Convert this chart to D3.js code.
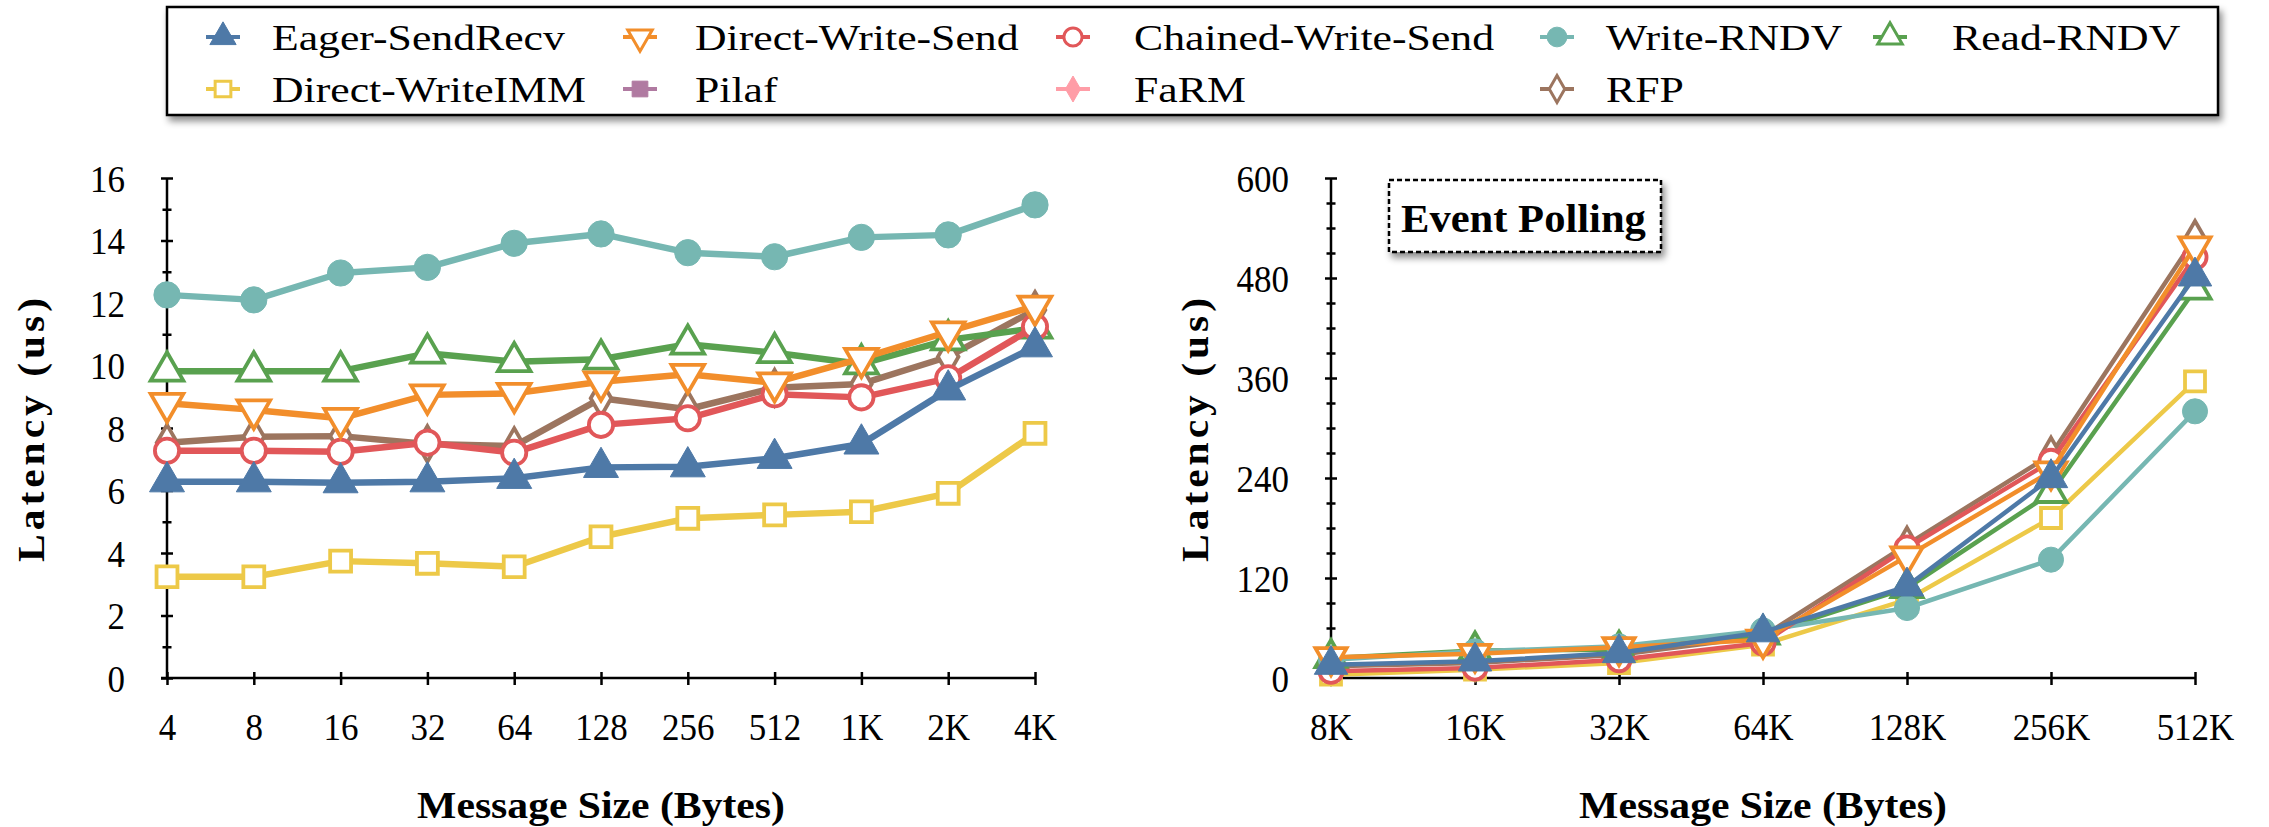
<!DOCTYPE html>
<html>
<head>
<meta charset="utf-8">
<script src="https://cdn.jsdelivr.net/npm/d3@7"></script>
<style>
  body { margin: 0; background: #fff; }
  svg { display: block; }
  svg text { font-family: "Liberation Serif", Tinos, "Times New Roman", Times, "DejaVu Serif", serif; }
</style>
</head>
<body>
<svg id="chart" width="2269" height="827"></svg>
<script>
// ---- data ----
const seriesNames = ["Eager-SendRecv", "Direct-Write-Send", "Chained-Write-Send", "Write-RNDV", "Read-RNDV",
                     "Direct-WriteIMM", "Pilaf", "FaRM", "RFP"];

const smallSizes = ["4", "8", "16", "32", "64", "128", "256", "512", "1K", "2K", "4K"];
const largeSizes = ["8K", "16K", "32K", "64K", "128K", "256K", "512K"];
const smallTicks = [0, 2, 4, 6, 8, 10, 12, 14, 16];
const largeTicks = [0, 120, 240, 360, 480, 600];

// latency (us), small messages
const smallEager        = [6.28, 6.28, 6.25, 6.28, 6.39, 6.74, 6.76, 7.03, 7.49, 9.22, 10.6];
const smallDirectWSend  = [8.79, 8.58, 8.31, 9.06, 9.11, 9.48, 9.72, 9.45, 10.23, 11.08, 11.9];
const smallChainedWSend = [7.27, 7.27, 7.24, 7.53, 7.21, 8.10, 8.31, 9.08, 8.98, 9.59, 11.24];
const smallWriteRNDV    = [12.26, 12.10, 12.96, 13.14, 13.91, 14.21, 13.61, 13.48, 14.10, 14.18, 15.14];
const smallReadRNDV     = [9.82, 9.82, 9.82, 10.39, 10.12, 10.20, 10.68, 10.41, 10.05, 10.82, 11.19];
const smallWriteIMM     = [3.24, 3.24, 3.74, 3.67, 3.56, 4.52, 5.11, 5.22, 5.32, 5.91, 7.83];
const smallPilaf        = [];
const smallFaRM         = [];
const smallRFP          = [7.53, 7.72, 7.74, 7.49, 7.42, 8.95, 8.60, 9.29, 9.41, 10.28, 11.78];

// latency (us), large messages, event polling
const largeEager        = [16, 20, 30, 55, 110, 240, 482];
const largeDirectWSend  = [25, 29, 37, 46, 146, 248, 518];
const largeChainedWSend = [8, 12, 22, 42, 156, 260, 505];
const largeWriteRNDV    = [22, 32, 38, 57, 84, 142, 320];
const largeReadRNDV     = [24, 33, 34, 52, 108, 222, 466];
const largeWriteIMM     = [4, 10, 18, 40, 94, 192, 356];
const largePilaf        = [];
const largeFaRM         = [];
const largeRFP          = [14, 18, 28, 50, 160, 268, 528];

const smallSeries = [smallEager, smallDirectWSend, smallChainedWSend, smallWriteRNDV, smallReadRNDV,
                     smallWriteIMM, smallPilaf, smallFaRM, smallRFP];
const largeSeries = [largeEager, largeDirectWSend, largeChainedWSend, largeWriteRNDV, largeReadRNDV,
                     largeWriteIMM, largePilaf, largeFaRM, largeRFP];

// ---- styling ----
const colors = ["#4e79a7", "#f28e2b", "#e15759", "#76b7b2", "#59a14f", "#edc948", "#b07aa1", "#ff9da7", "#9c755f"];
const shapes = [
  { type: d3.symbolTriangle, open: false, rot: 0,   size: 460 },
  { type: d3.symbolTriangle, open: true,  rot: 180, size: 400 },
  { type: d3.symbolCircle,   open: true,  rot: 0,   size: 400 },
  { type: d3.symbolCircle,   open: false, rot: 0,   size: 470 },
  { type: d3.symbolTriangle, open: true,  rot: 0,   size: 400 },
  { type: d3.symbolSquare,   open: true,  rot: 0,   size: 380 },
  { type: d3.symbolSquare,   open: false, rot: 0,   size: 380 },
  { type: d3.symbolDiamond,  open: false, rot: 0,   size: 300 },
  { type: d3.symbolDiamond,  open: true,  rot: 0,   size: 320 }
];

const svg = d3.select("#chart");

// soft drop shadow used by the framed boxes
const defs = svg.append("defs");
const shadow = defs.append("filter").attr("id", "shadow")
  .attr("x", "-5%").attr("y", "-20%").attr("width", "115%").attr("height", "160%");
shadow.append("feDropShadow")
  .attr("dx", 3).attr("dy", 5).attr("stdDeviation", 3.5)
  .attr("flood-color", "#000").attr("flood-opacity", 0.45);

function markerPath(s, scale) {
  return d3.symbol().type(s.type).size(s.size * (scale || 1))();
}

// horizontal scale that brings a string to a given width at a given size
function widthScale(str, size, weight, targetWidth) {
  const t = svg.append("text").style("font-size", size + "px").style("font-weight", weight).text(str);
  const w = t.node().getComputedTextLength();
  t.remove();
  return w > 0 ? targetWidth / w : 1;
}

const TICK_SIZE = 37;
const tickScale = widthScale("16", TICK_SIZE, "normal", 35);

function drawPanel(opt) {
  const x = d3.scalePoint().domain(opt.categories).range([opt.x0, opt.x1]);
  const y = d3.scaleLinear().domain([0, opt.yMax]).range([opt.yBottom, opt.yTop]);
  const g = svg.append("g");

  // y axis: major + minor ticks crossing the spine
  const yAxis = g.append("g").attr("transform", `translate(${opt.x0},0)`)
    .call(d3.axisLeft(y).tickValues(opt.yTicks).tickSizeOuter(0).tickFormat(d3.format("d")));
  yAxis.attr("font-family", null);
  yAxis.select(".domain").remove();
  yAxis.selectAll(".tick line").attr("x1", -6).attr("x2", 6).attr("stroke", "#000").attr("stroke-width", 2.5);
  yAxis.selectAll(".tick text")
    .attr("dy", "0.36em")
    .attr("x", -42 / tickScale)
    .attr("transform", `scale(${tickScale},1)`)
    .style("font-size", TICK_SIZE + "px").attr("fill", "#000");

  const minor = g.append("g").attr("transform", `translate(${opt.x0},0)`)
    .call(d3.axisLeft(y).tickValues(d3.range(0, opt.yMax + 1e-9, opt.yMinor)
      .filter(v => !opt.yTicks.includes(v))).tickFormat(""));
  minor.select(".domain").remove();
  minor.selectAll(".tick line").attr("x1", -4.5).attr("x2", 4.5).attr("stroke", "#000").attr("stroke-width", 2.5);

  g.append("line")
    .attr("x1", opt.x0).attr("x2", opt.x0)
    .attr("y1", y(opt.yMax)).attr("y2", y(0))
    .attr("stroke", "#000").attr("stroke-width", 2.5);

  // x axis
  const xAxis = g.append("g").attr("transform", `translate(0,${y(0)})`)
    .call(d3.axisBottom(x).tickSizeOuter(0));
  xAxis.attr("font-family", null);
  xAxis.select(".domain").remove();
  xAxis.selectAll(".tick line").attr("y1", -6).attr("y2", 7).attr("stroke", "#000").attr("stroke-width", 2.5);
  xAxis.selectAll(".tick text")
    .attr("y", 62).attr("dy", null)
    .attr("transform", `scale(${tickScale},1)`)
    .style("font-size", TICK_SIZE + "px").attr("fill", "#000");
  g.append("line")
    .attr("x1", opt.x0 - 6).attr("x2", opt.x1)
    .attr("y1", y(0)).attr("y2", y(0))
    .attr("stroke", "#000").attr("stroke-width", 2.5);

  // axis titles
  const ys = widthScale("Latency (us)", 38, "bold", 220);
  g.append("text")
    .attr("text-anchor", "middle")
    .attr("transform",
      `translate(${opt.x0 - 123},${(opt.yTop + opt.yBottom) / 2}) rotate(-90) scale(${ys},1)`)
    .style("font-size", "38px").style("font-weight", "bold")
    .style("letter-spacing", (4 / ys) + "px")
    .text("Latency (us)");

  const xs = widthScale("Message Size (Bytes)", 38, "bold", 368);
  g.append("text")
    .attr("text-anchor", "middle")
    .attr("transform", `translate(${(opt.x0 + opt.x1) / 2},818) scale(${xs},1)`)
    .style("font-size", "38px").style("font-weight", "bold")
    .text("Message Size (Bytes)");

  // series, last legend entry at the bottom
  const order = d3.range(seriesNames.length).reverse();
  const line = d3.line().x((d, i) => x(opt.categories[i])).y(d => y(d));
  order.forEach(k => {
    const vals = opt.series[k];
    if (!vals.length) return;
    const sg = g.append("g");
    sg.append("path").datum(vals)
      .attr("d", line)
      .attr("fill", "none").attr("stroke", colors[k])
      .attr("stroke-width", opt.lineWidth).attr("stroke-linejoin", "round");
    const s = shapes[k];
    sg.selectAll("path.mk").data(vals).join("path").attr("class", "mk")
      .attr("d", markerPath(s, opt.markerScale))
      .attr("transform", (d, i) => `translate(${x(opt.categories[i])},${y(d)}) rotate(${s.rot})`)
      .attr("fill", s.open ? "#fff" : colors[k])
      .attr("stroke", colors[k])
      .attr("stroke-width", s.open ? 3.8 : 1);
  });
  return { x, y, g };
}

drawPanel({
  categories: smallSizes, series: smallSeries, yMax: 16, yTicks: smallTicks, yMinor: 1,
  x0: 167, x1: 1035, yTop: 178, yBottom: 678, lineWidth: 6.5, markerScale: 1.15
});

drawPanel({
  categories: largeSizes, series: largeSeries, yMax: 600, yTicks: largeTicks, yMinor: 30,
  x0: 1331, x1: 2195, yTop: 178, yBottom: 678, lineWidth: 4.5, markerScale: 1.05
});

// annotation box on the event polling panel
const note = svg.append("g");
note.append("rect")
  .attr("x", 1389).attr("y", 180).attr("width", 272).attr("height", 72)
  .attr("fill", "#fff").attr("stroke", "#000").attr("stroke-width", 2.5)
  .attr("stroke-dasharray", "5,3").attr("filter", "url(#shadow)");
const ns = widthScale("Event Polling", 39, "bold", 245);
note.append("text")
  .attr("transform", `translate(1401,232) scale(${ns},1)`)
  .style("font-size", "39px").style("font-weight", "bold")
  .text("Event Polling");

// legend
const legend = svg.append("g");
legend.append("rect")
  .attr("x", 167).attr("y", 7).attr("width", 2051).attr("height", 108)
  .attr("fill", "#fff").attr("stroke", "#000").attr("stroke-width", 2.5)
  .attr("filter", "url(#shadow)");
const legendMarkX = [223, 640, 1073, 1557, 1890];
const legendTextX = [272, 695, 1134, 1606, 1952];
const legendRowY = [37, 89];
// "Eager-SendRecv" spans about 293px; the other labels follow the same scale
const legendScale = widthScale("Eager-SendRecv", 35, "normal", 293);
seriesNames.forEach((name, k) => {
  const col = k % 5, row = Math.floor(k / 5);
  const mx = legendMarkX[col], cy = legendRowY[row];
  const item = legend.append("g");
  item.append("line")
    .attr("x1", mx - 17).attr("x2", mx + 17).attr("y1", cy).attr("y2", cy)
    .attr("stroke", colors[k]).attr("stroke-width", 4);
  const s = shapes[k];
  item.append("path")
    .attr("d", markerPath(s, 0.65))
    .attr("transform", `translate(${mx},${cy}) rotate(${s.rot})`)
    .attr("fill", s.open ? "#fff" : colors[k])
    .attr("stroke", colors[k]).attr("stroke-width", s.open ? 3 : 1);
  item.append("text")
    .attr("transform", `translate(${legendTextX[col]},${cy + 13}) scale(${legendScale},1)`)
    .style("font-size", "35px")
    .text(name);
});
</script>
</body>
</html>
